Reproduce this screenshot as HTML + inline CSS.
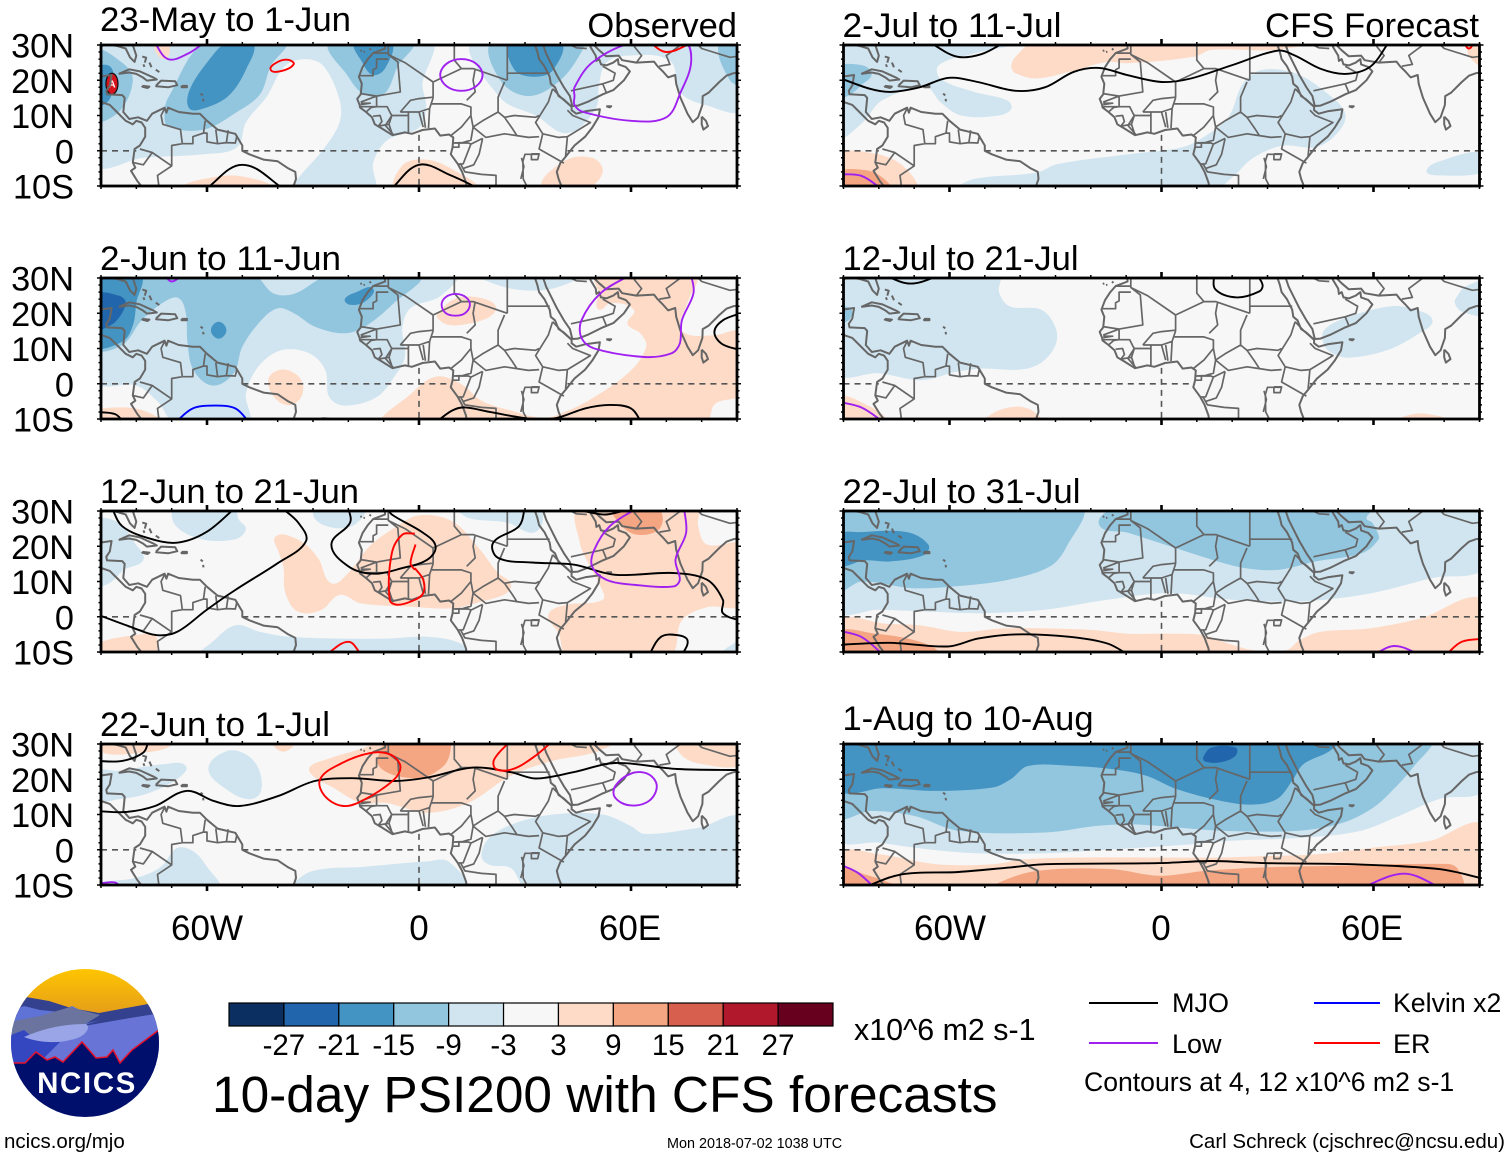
<!DOCTYPE html>
<html lang="en">
<head>
<meta charset="utf-8">
<title>10-day PSI200 with CFS forecasts</title>
<style>
html,body{margin:0;padding:0;background:#fff;}
svg{display:block;font-family:"Liberation Sans",sans-serif;}
</style>
</head>
<body>
<svg id="chart" xmlns="http://www.w3.org/2000/svg" width="1510" height="1158" viewBox="0 0 1510 1158">
  <rect width="1510" height="1158" fill="#fff"/>
  <g id="panels"></g>

  <text x="207" y="940" font-size="35" text-anchor="middle">60W</text>
  <text x="419" y="940" font-size="35" text-anchor="middle">0</text>
  <text x="630" y="940" font-size="35" text-anchor="middle">60E</text>
  <text x="950" y="940" font-size="35" text-anchor="middle">60W</text>
  <text x="1161" y="940" font-size="35" text-anchor="middle">0</text>
  <text x="1372" y="940" font-size="35" text-anchor="middle">60E</text>

  <text x="737" y="37" font-size="34.5" text-anchor="end">Observed</text>
  <text x="1479" y="37" font-size="34.7" text-anchor="end">CFS Forecast</text>

  <g id="colorbar"></g>
  <text x="854" y="1040" font-size="30.4">x10^6 m2 s-1</text>
  <text x="212" y="1112" font-size="51.4">10-day PSI200 with CFS forecasts</text>

  <g>
    <line x1="1089" y1="1003" x2="1158" y2="1003" stroke="#000" stroke-width="2"/>
    <text x="1172" y="1012" font-size="27">MJO</text>
    <line x1="1314" y1="1003" x2="1380" y2="1003" stroke="#0000ff" stroke-width="2"/>
    <text x="1393" y="1012" font-size="26.7">Kelvin x2</text>
    <line x1="1089" y1="1043" x2="1158" y2="1043" stroke="#a020f0" stroke-width="2"/>
    <text x="1172" y="1053" font-size="27">Low</text>
    <line x1="1314" y1="1043" x2="1380" y2="1043" stroke="#ff0000" stroke-width="2"/>
    <text x="1393" y="1053" font-size="27">ER</text>
    <text x="1084" y="1091" font-size="26.6">Contours at 4, 12 x10^6 m2 s-1</text>
  </g>

  <g>
    <defs>
      <clipPath id="logoClip"><circle cx="85" cy="1043" r="74"/></clipPath>
      <linearGradient id="sky" x1="0" y1="0" x2="0" y2="1"><stop offset="0" stop-color="#ffc600"/><stop offset="1" stop-color="#e39a1c"/></linearGradient>
    </defs>
    <g clip-path="url(#logoClip)">
      <rect x="10" y="968" width="150" height="50" fill="url(#sky)"/>
      <path d="M8 999 L26 997 L49 1001 L71 1008 L99 1013 L148 1004 L162 1006 L162 1070 L8 1070 Z" fill="#33418f"/>
      <path d="M8 1012 L24 1006 L40 1010 L60 1012 L72 1006 L92 1016 L84 1024 L100 1020 L8 1050 Z" fill="#5f72d6"/>
      <path d="M8 1022 L40 1016 L70 1007 L100 1015 L82 1026 L60 1042 L8 1040 Z" fill="#6a749f"/>
      <path d="M84 1026 L130 1018 L162 1013 L162 1080 L10 1080 L40 1045 Z" fill="#6875d6"/>
      <path d="M8 1036 L24 1030 L36 1040 L60 1042 L40 1062 L8 1064 Z" fill="#3547c0"/>
      <path d="M24 1037 C40 1030 60 1024 86 1024 C92 1028 84 1038 70 1040 C56 1044 36 1042 24 1037 Z" fill="#9aa5e8"/>
      <path d="M8 1063 L14 1063 L25 1063 L36 1052 L47 1060 L55 1057 L63 1062 L82 1042 L96 1058 L107 1057 L113 1050 L120 1063 L132 1050 L159 1030 L162 1030 L162 1120 L8 1120 Z" fill="#000f6b"/>
      <path d="M8 1063 L14 1063 L25 1063 L36 1052 L47 1060 L55 1057 L63 1062 L82 1042 L96 1058 L107 1057 L113 1050 L120 1063 L132 1050 L159 1030" fill="none" stroke="#e8102a" stroke-width="1.5"/>
    </g>
    <text x="87" y="1093" font-size="29.5" font-weight="bold" fill="#fff" text-anchor="middle" letter-spacing="1.6">NCICS</text>
  </g>

  <text x="4" y="1148" font-size="20.5">ncics.org/mjo</text>
  <text x="667" y="1148" font-size="14.4">Mon 2018-07-02 1038 UTC</text>
  <text x="1505" y="1148" font-size="20.5" text-anchor="end">Carl Schreck (cjschrec@ncsu.edu)</text>
</svg>

<script>
// ---- Axis values ----
const lonMajorTicks = [-60, 0, 60];
const lonMinorTicks = [-90,-80,-70,-50,-40,-30,-20,-10,10,20,30,40,50,70,80,90];
const latMajorTicks = [30, 20, 10, 0, -10];
const latTickLabels = ['30N', '20N', '10N', '0', '10S'];
const latMinorTicks = [28,26,24,22,18,16,14,12,8,6,4,2,-2,-4,-6,-8];

// ---- Colour scale ----
const colorLevels = [-27,-21,-15,-9,-3,3,9,15,21,27];
const colorFills = ['#0a2f60','#2166ac','#4393c3','#92c5de','#d1e5f0','#f7f7f7','#fddbc7','#f4a582','#d6604d','#b2182b','#67001f'];
const contourColors = {mjo:'#000000', low:'#a020f0', kelvin:'#0000ff', er:'#ff0000'};

// ---- Panel titles ----
const panelTitles = ['23-May to 1-Jun','2-Jun to 11-Jun','12-Jun to 21-Jun','22-Jun to 1-Jul','2-Jul to 11-Jul','12-Jul to 21-Jul','22-Jul to 31-Jul','1-Aug to 10-Aug'];

// ---- Filled PSI200 anomaly regions: [value, [[lon,lat],...]] ----
const regions1 = [
 [-6,[[-92,-3.5],[-78,-2],[-61,-1],[-51.5,1],[-49,8],[-43,15.5],[-38,24],[-32,26],[-27,24],[-22.5,14.5],[-22.5,8],[-27,0.5],[-33.5,-7],[-36,-11],[-13,-11],[-13,-3.5],[-9,3],[0,6.5],[2,12.5],[1,19],[3,31],[-92,31]]],
 [-6,[[16,31],[23,15],[33,10],[42,5],[50,12],[51,19],[53,25],[59,27],[71,25.5],[74,16.5],[81,13],[92,12],[92,31]]],
 [-12,[[-92,9],[-85,11],[-81,20],[-84,25],[-92,28]]],
 [-12,[[-71,15],[-72,11],[-71,7],[-61,6],[-51.5,11],[-45,16],[-42,24],[-38,31],[-60,31]]],
 [-12,[[-25,31],[-20,21],[-15.5,16],[-10,16],[-6,24],[-2,31]]],
 [-12,[[21,31],[23,20],[31,15.5],[40,20],[46.5,29],[46,31]]],
 [-12,[[85,31],[88,20],[92,19],[92,31]]],
 [-18,[[-92,23],[-87.5,24],[-86.5,19],[-88,14],[-92,13]]],
 [-18,[[-65,12],[-61,12],[-54,15.5],[-49,23],[-47,31],[-54,31],[-60,25],[-65,17]]],
 [-18,[[-18,31],[-16,25],[-13,21.5],[-9.5,23.5],[-8,31]]],
 [-18,[[26,31],[27,23],[33,21],[38,23],[40,31]]],
 [6,[[-75,31],[-72,26],[-71,31]]],
 [6,[[-66,-11],[-53,-7],[-42,-11]]],
 [6,[[-6.5,-11],[-4.5,-4],[2,-2.5],[9,-5],[16,-11]]],
 [6,[[35,-11],[41,-3],[49,-2],[52,-6],[47,-11]]]
];
const regions2 = [
 [-6,[[-92,1],[-80,-0.5],[-74,-5],[-69,-11],[-48.5,-11],[-49,-3],[-45.5,4.8],[-39,9.5],[-31,8.6],[-26.5,3.8],[-25.4,-3.8],[-21,-6.2],[-12,-3.8],[-7,2],[-4,7.6],[-4.7,16],[-2.4,21.4],[6,24.8],[10.6,31],[-92,31]]],
 [-6,[[17.7,31],[26,27],[37.8,27],[45,31]]],
 [-12,[[-47.2,31],[-41.3,25.7],[-35.4,25.5],[-24.8,31],[0,31],[-7,23],[-15.3,16.2],[-21.3,14.3],[-29.5,16.2],[-35.4,20],[-40,21.4],[-45,17.6],[-50,10.5],[-52.5,2.9],[-58.4,-0.5],[-63.8,3.8],[-65.5,11.4],[-66,20],[-68,24.3],[-72,23.3],[-78.5,18],[-84,11],[-92,10.3],[-92,31]]],
 [-18,[[-92,31],[-79,31],[-80,23],[-81,16.5],[-84,11.9],[-92,11]]],
 [-18,[[-56.7,17.6],[-54.5,15.2],[-56.7,12.8],[-58.9,15.2]]],
 [-18,[[-21,24],[-17.7,26],[-13,27],[-15.3,23.3],[-19.5,22.4]]],
 [-24,[[-92,25],[-85,25],[-83,23],[-85.5,18],[-88.5,16],[-92,15]]],
 [6,[[-38,4],[-33.6,1.5],[-33,-3],[-36,-6],[-39.8,-5],[-42.5,-1],[-42,2.5]]],
 [6,[[5.3,20],[10.6,24.3],[17.7,24.3],[21.8,21.9],[20,19],[14,17],[8.3,16.7],[5.3,18.6]]],
 [6,[[-92,-8],[-85,-6.7],[-78,-7.6],[-73,-11],[-92,-11]]],
 [6,[[-10,-11],[-2.4,-3],[4.7,2],[11.8,0],[17.7,-4.8],[26,-7.6],[35.4,-9.7],[41.3,-8],[49.6,-3.8],[60,3.8],[64.3,10.5],[62.6,14.3],[59,17],[60.8,21],[54.3,22.9],[51.4,21],[50.2,22],[50.8,25.7],[50,31],[78,31],[76,23],[73.8,16.2],[76.7,13.8],[83.8,13.8],[92,14.3],[92,-2.4],[83.8,-5.7],[81,-11]]]
];
const regions3 = [
 [-6,[[-92,27],[-85,26.7],[-80.5,21],[-78,16.2],[-83.5,13.3],[-87.7,9.5],[-92,9]]],
 [-6,[[-69,31],[-69,26],[-61.5,22],[-52,22],[-49,24.8],[-51,27.6],[-52.5,31]]],
 [-6,[[-30,29],[-27,26],[-20.5,25.2],[-16.5,27.6],[-15.3,31],[-28,31]]],
 [-6,[[11,31],[14,28],[25,26.7],[32,23.8],[35,26.7],[33.6,31]]],
 [-6,[[-62.5,-11],[-59,-7.6],[-52,-2.4],[-45,-4.3],[-36.6,-5.7],[-21,-6.2],[-9.4,-6.2],[2.4,-5.7],[11.8,-7.6],[13.5,-11]]],
 [-6,[[86,-11],[89,-7.6],[92,-7],[92,-11]]],
 [6,[[-41,22],[-39.5,23.3],[-36.6,22.9],[-32,20.5],[-28.3,16.2],[-24.8,9.5],[-20,12.4],[-14,20],[-7,25.2],[0,28.8],[9.4,27.1],[16.5,20],[22.4,12.4],[26,9.5],[24.8,6.7],[17.7,4.3],[9.4,2.4],[-3.5,2.9],[-16.5,3.8],[-22.4,6.2],[-27.7,1.9],[-34.2,1.4],[-37.8,6.7],[-38.4,14.3],[-40,19]]],
 [6,[[45.5,31],[45.5,21],[48.4,14.3],[51.4,8.6],[52,4.8],[41.3,3.3],[36.6,0.5],[39.6,-4.8],[42,-11],[70.8,-11],[74.4,-1],[81.5,2.7],[92,3.8],[92,20],[81.5,20.5],[79,25.7],[78.5,31]]],
 [6,[[-92,-8],[-80.3,-5.2],[-74.4,-5.7],[-75.6,-11],[-92,-11]]],
 [12,[[55,31],[57.5,25.7],[61.6,23.3],[67.3,24.3],[69,27.6],[67.3,31]]]
];
const regions4 = [
 [6,[[-92,31],[-89,27.4],[-80,27.4],[-72,28.6],[-69,31]]],
 [6,[[-41.3,31],[-38.4,27.8],[-35.4,31]]],
 [6,[[-31,23.3],[-26,25.7],[-16.5,28.6],[-9.4,31],[55.5,31],[49.6,27.6],[37.8,25.2],[26,21],[14,13.3],[2.4,10.5],[-9.4,13.3],[-16.5,13.3],[-25,18],[-29.5,20.5]]],
 [6,[[73,31],[74.4,26.7],[80,24.3],[92,24.3],[92,31]]],
 [12,[[-8.3,31],[-11.8,25.7],[-10.6,23],[-6,20.9],[1.2,20.5],[7,23.8],[8.8,27.6],[8.3,31]]],
 [-6,[[-92,22],[-85,22.4],[-72,24.3],[-66,23.8],[-68.5,20],[-76.7,16],[-85,14.3],[-92,14.3]]],
 [-6,[[-59.6,23],[-54.3,28],[-48.4,26.7],[-45,22],[-45,16],[-48.4,14.3],[-54.3,17]]],
 [-6,[[-92,-9.5],[-80.3,-8],[-73,-4.8],[-68.5,0.5],[-63.8,-0.5],[-60,-4.8],[-56.7,-11],[-92,-11]]],
 [-6,[[-35.4,-11],[-30.7,-6.2],[-15.3,-4.8],[2.4,-3.3],[8.3,-3.3],[13,-11]]],
 [-6,[[17.7,-2],[19.5,3],[26,7.1],[37.8,10],[52,10],[60,6.7],[63.8,4.5],[79,6.2],[92,8.6],[92,-11],[30.7,-11],[26,-5.2],[20,-4.3]]]
];
const regions5 = [
 [-6,[[-92,31],[-40,31],[-53,27.6],[-63,24.3],[-62.6,20.5],[-53,16.7],[-43.7,14.3],[-42.5,11.9],[-46,10],[-56.7,10],[-62.6,13.8],[-66.7,18],[-79,14.3],[-85,7.6],[-92,3.8]]],
 [-12,[[-92,23.3],[-85,24.3],[-82,21.9],[-85,18.6],[-88.5,15.7],[-92,15.2]]],
 [-6,[[-58,-11],[-53,-8],[-35.4,-6.2],[-29.5,-3.8],[-9.4,-1],[5.9,1],[11.8,3.8],[18.9,9.5],[23,19],[28.3,22.9],[37.8,22],[46,17],[52,10.5],[49.6,4.8],[43.7,1],[34.2,1.4],[26,-2],[20,-7.6],[14.8,-11]]],
 [-6,[[75,-5.7],[79,-2.9],[92,-0.5],[92,-5.7],[78,-7]]],
 [6,[[-42.5,23.8],[-41.3,26.7],[-35.4,31],[43.7,31],[31.9,28.6],[14,28.6],[9.4,26.7],[-9.4,24.8],[-15.3,25.2],[-26,22.4],[-35.4,20.5],[-41.3,22]]],
 [6,[[-92,-1.4],[-80.3,-1],[-72.6,-4.8],[-69.7,-11],[-92,-11]]],
 [12,[[-92,-6.2],[-83.8,-5.5],[-79,-7.6],[-76.7,-11],[-92,-11]]],
 [6,[[87.4,31],[87,27],[92,24],[92,31]]]
];
const regions6 = [
 [-6,[[-92,31],[-46,31],[-46,26],[-43,22],[-34,21],[-30,16],[-30,11],[-34,6],[-40,4],[-51,4.3],[-58,3.4],[-68,1],[-80,3],[-92,3.3]]],
 [-6,[[46,15.2],[53,19],[65,22],[72,21],[76.7,18],[73,14.3],[63.8,9.5],[53,7.4],[48.4,8.6],[46,11]]],
 [-6,[[83.8,25],[86,27.6],[92,28.6],[92,20],[85,20.5],[83,23]]],
 [-12,[[-92,21],[-88,21.4],[-88.5,18],[-92,18]]],
 [6,[[-92,-4],[-85,-5.2],[-78.5,-11],[-92,-11]]],
 [6,[[-50,-11],[-47,-8],[-41.3,-6.5],[-36.6,-7.6],[-34,-11]]],
 [6,[[66.7,-11],[73,-8.4],[81,-11]]]
];
const regions7 = [
 [-6,[[-92,2],[-80.3,2],[-65,1.4],[-51,1],[-33,2],[-15.3,4.8],[2.4,6.7],[20,4.8],[37.8,4.3],[49.6,5.2],[61.4,7.1],[76.7,11],[92,14.3],[92,31],[-92,31]]],
 [-12,[[-92,7.5],[-84.9,10],[-70.5,8.1],[-58.6,8.6],[-43.3,10.5],[-31.5,14.3],[-26.8,20],[-23,31],[-92,31]]],
 [-12,[[-17.7,26.2],[-9.4,23.8],[2.4,20],[14.2,16.2],[23.6,13.8],[33,13.3],[43.7,15.7],[56.7,18],[61.4,21.9],[61,24.3],[59.6,26.7],[58,28],[60,31],[-12,31]]],
 [-18,[[-92,23],[-85,24],[-72,24],[-66,20.5],[-67,17.6],[-76.7,15.7],[-84,16],[-92,14.8]]],
 [6,[[-92,-1],[-78,-2],[-68.5,-2.4],[-56.7,-4.3],[-45,-3.3],[-33,-3.3],[-19,-3.8],[-9.4,-4.8],[2.4,-4.8],[11.8,-5.2],[18.9,-7.6],[26,-9.5],[35.4,-9.5],[39,-6.7],[44.9,-4.3],[59,-3.3],[73.2,-0.5],[92,4.8],[92,-11],[-92,-11]]],
 [12,[[-92,-4.3],[-81,-4.8],[-71.7,-6.2],[-64.7,-8.6],[-62.6,-11],[-92,-11]]]
];
const regions8 = [
 [-6,[[-92,3.5],[-80,2],[-65,0],[-52.6,-1],[-32.8,-1],[-15.5,0],[8,1.5],[19,2.5],[41.5,3.5],[56.5,5.4],[66.4,9.2],[78.6,14.4],[92,17.2],[92,31],[-92,31]]],
 [-12,[[-92,9.6],[-82.3,11],[-70,9.6],[-57.5,5.4],[-32.8,4.9],[-18,6.8],[-8,7.2],[4.3,6.3],[16.7,5.4],[39,5.4],[51.4,7.7],[60,12],[66.2,17.7],[71.2,23.4],[76,31],[-92,31]]],
 [-18,[[-92,17.2],[-78.6,17.5],[-63.7,16.7],[-47.6,17.7],[-42.7,20],[-37.7,23.8],[-25.3,23.8],[-14.2,22.9],[-4.3,21],[4.3,17.2],[16.7,13.9],[25.3,12.8],[32.7,14.4],[37,19.6],[40.2,24.3],[47.6,28],[50,31],[-92,31]]],
 [-24,[[11.8,26.2],[14.2,29],[21,29],[21,26.7],[16.7,24.8],[12.4,25]]],
 [6,[[-92,-1],[-79.8,-1.3],[-63.7,-4.1],[-47.6,-4.1],[-39,-2.7],[-20.4,-2.2],[-0.6,-2.2],[16.7,-2.2],[29,-1.8],[44,-1.3],[60,0.6],[76,2.5],[92,6.8],[92,-11],[-92,-11]]],
 [12,[[-92,-5],[-84,-7],[-78,-9],[-74,-11],[-92,-11]]],
 [12,[[-46.4,-11],[-46.4,-9.5],[-35.3,-6],[-14.2,-5.5],[-0.6,-7.4],[12.4,-6],[29,-5],[47.6,-4.6],[78.6,-4],[83.5,-5],[84.8,-11]]]
];

// ---- Contours: [type, closed, [[lon,lat],...]] ----
const contours1 = [
 ['low',0,[[-75,31],[-71,26],[-65.5,27.5],[-61,30.5]]],
 ['low',1,[[12,26],[16.2,24.7],[18,21.5],[16.2,18.3],[12,17],[7.8,18.3],[6,21.5],[7.8,24.7]]],
 ['low',1,[[44,15.5],[44,13],[46.5,11],[60,8.5],[70,9.5],[74,16.5],[77,25],[75,31],[60,30.5],[49,25],[44,18]]],
 ['er',1,[[-42,23],[-39,22.6],[-35.5,24.5],[-37,25.8],[-40,25.2]]],
 ['er',0,[[65,31],[70,28],[77,30.5]]],
 ['mjo',0,[[-60.5,-11],[-50,-4],[-38,-11]]],
 ['mjo',0,[[-8,-11],[0,-4],[9,-7],[17.5,-11]]]
];
const contours2 = [
 ['low',0,[[-72,31],[-70,29],[-67,31]]],
 ['low',1,[[10.4,25.5],[13.2,24.6],[14.4,22.4],[13,20],[10.4,19.3],[7.6,20],[6.4,22.4],[7.6,24.6]]],
 ['low',0,[[60,31],[51.4,25.7],[46,18],[46,13],[49.6,10],[63.8,7.6],[71.4,8.6],[73.8,11.4],[74.4,18],[77.7,25.7],[77,31]]],
 ['mjo',0,[[91,20],[86,18],[83.6,14.8],[85.6,11.4],[91,9.5]]],
 ['mjo',0,[[-92,-8],[-86,-8.6],[-83.5,-11]]],
 ['kelvin',0,[[-69,-11],[-64,-7],[-58,-6.2],[-52,-7],[-48,-11]]],
 ['mjo',0,[[-30,-11],[-27,-9.8],[-21,-11]]],
 ['mjo',0,[[4.7,-11],[9.4,-7.6],[13,-6.7],[20,-8],[32,-10],[39,-9.7],[47,-7],[54,-6],[60,-7],[63,-11]]]
];
const contours3 = [
 ['mjo',0,[[-87,31],[-84,25.7],[-76.9,22.4],[-68.5,21],[-60.2,24],[-51.9,31]]],
 ['mjo',0,[[-39,31],[-34.2,26.7],[-32,21.4],[-40,15.2],[-52,7.6],[-60.2,1.9],[-68.5,-4.3],[-74.4,-5.2],[-81.5,-2.9],[-92,1]]],
 ['mjo',0,[[-20,31],[-19.5,26.7],[-24.8,20.5],[-20,14.3],[-13,12.2],[-4.7,13.8],[2.4,16.2],[4.7,20],[1.2,23.8],[-7.7,29],[-9,31]]],
 ['mjo',0,[[30,31],[28.3,25.7],[21,21],[22.4,16.7],[32,15.4],[43.7,14.8],[55.5,11.9],[72,12.4],[81.5,10.5],[86,4.8],[86,1],[92,-1.4]]],
 ['mjo',0,[[46.6,30],[53,29],[61,31]]],
 ['mjo',0,[[65,-11],[68.5,-5.7],[73,-5.2],[76,-6.7],[74.4,-11]]],
 ['er',0,[[-1.2,23.6],[-4.7,23.3],[-7.7,18],[-8.3,4.8],[-6,3.4],[-1.2,4.8],[1.2,6.7],[1.2,10.5],[-1.2,13.8]]],
 ['er',0,[[-1,20.5],[-2.4,15.2],[-1.2,13.3]]],
 ['er',0,[[-26,-10.5],[-20,-7.1],[-16.5,-10.5]]],
 ['low',0,[[62,31],[54,25.7],[49.6,19],[49,14.3],[53,10.5],[61.4,9],[72,8.6],[73.8,10.5],[72.6,16.2],[75.6,23.8],[75,31]]]
];
const contours4 = [
 ['mjo',0,[[-92,25.2],[-84,25.2],[-78,27.6],[-76.5,31]]],
 ['mjo',0,[[-92,11],[-83,10.7],[-74.7,12.4],[-65.8,16.7],[-58,13.8],[-50.8,12.4],[-40,15.2],[-29.5,19.5],[-18.9,20.3],[-7,19.5],[2.4,20.5],[15.3,23.3],[26,22],[33,20.2],[43.7,22],[55.5,24.6],[73,22.9],[92,22.6]]],
 ['er',1,[[-14,27.4],[-22.4,24.3],[-28,20],[-26.6,15.2],[-21.3,12.4],[-15.3,14.3],[-7,20],[-5.3,23.8],[-8.3,27.1]]],
 ['er',0,[[26,31],[21.3,25.7],[21.8,22.9],[26.6,22.9],[33,26.7],[38,31]]],
 ['low',1,[[60.2,21.7],[55.5,18],[55.5,14.8],[59.6,12.6],[65,13.8],[67.3,18],[65,21.4]]],
 ['low',0,[[-90,-9.5],[-86,-9.3],[-84,-11]]]
];
const contours5 = [
 ['low',0,[[-92,-6.7],[-85,-7.1],[-79,-11]]],
 ['mjo',0,[[-66,31],[-58,26.7],[-51,27.4],[-44,31]]],
 ['mjo',0,[[-92,21],[-82.6,17.6],[-76.7,16.7],[-68.5,18],[-60.2,20.7],[-52,19.5],[-41.3,17],[-33,18],[-24.8,22.4],[-17.7,23.5],[-9.4,21.4],[0,19.5],[8.3,20.5],[20,24.3],[33,28.4],[37.8,27],[44.9,23.3],[52,21.8],[59,23.8],[64.5,31]]],
 ['er',0,[[85.6,31],[87,29],[88.5,31]]]
];
const contours6 = [
 ['mjo',0,[[-79,31],[-71,28.4],[-62,31]]],
 ['mjo',0,[[14.8,31],[15.3,26.7],[21.3,24.5],[27.7,26.2],[28.6,28],[27,31]]],
 ['low',0,[[-92,-5],[-85,-6.7],[-78.5,-11]]]
];
const contours7 = [
 ['low',0,[[-92,-3.8],[-85,-5.7],[-78.5,-11]]],
 ['mjo',0,[[-92,-8],[-77,-7.4],[-60.2,-8.4],[-52,-6.2],[-41.3,-5],[-26,-5.7],[-15.3,-7.6],[-9,-11]]],
 ['low',0,[[59.6,-11],[66,-8.3],[73.8,-11]]],
 ['er',0,[[80.3,-11],[85,-7.1],[92,-6.2]]]
];
const contours8 = [
 ['mjo',0,[[-85,-11],[-73.6,-7],[-57.5,-6.3],[-42.7,-5],[-32.8,-4.1],[-0.6,-3.8],[14.2,-3.2],[29,-3.8],[53.8,-4.1],[78.6,-5.5],[92,-8.4]]],
 ['low',0,[[-92,-3.8],[-86,-6.5],[-81,-11]]],
 ['low',0,[[56,-11],[68.7,-6.8],[79.5,-11]]]
];

// ---- Geography (lon,lat) ----
const coastLines = [
 [[-92,29],[-88,30.3],[-85,29.6],[-83,29],[-81.8,26.5],[-80.5,25.2],[-80,27],[-81,30],[-81,32]],
 [[-92,18.6],[-90.5,21],[-87,21.5],[-87.5,18.5],[-88.5,17],[-88.3,16],[-84,15.8],[-83.3,15],[-83.7,11],[-82,9],[-79.5,9.5],[-77,8.5],[-75.5,10.5],[-72,12.2],[-71.5,10.8],[-71,12.2],[-68,11],[-64,10.5],[-62,10.5],[-60,8.5],[-57,6],[-52,4.8],[-50,1.5],[-50,0],[-48,-1],[-44,-2.5],[-40,-3],[-37,-5],[-35,-6],[-34.8,-8],[-35.5,-10],[-36,-12]],
 [[-92,14.5],[-87.5,13],[-85.5,11],[-83,8.5],[-81,7.5],[-80,8.5],[-78.5,8],[-77.5,6.5],[-77.5,4],[-79,1.5],[-80.5,0.5],[-81,-3.3],[-80.3,-4.8],[-81.5,-5.7],[-79.7,-8.6],[-77,-12]],
 [[-85,21.8],[-82,23.1],[-79,22.5],[-75,20.7],[-74.2,20.2],[-77,19.9],[-78,20.7],[-80,21.8],[-82,22.2],[-85,21.8]],
 [[-78.3,18.4],[-76.3,18.2],[-76.8,17.8],[-78.3,18.2],[-78.3,18.4]],
 [[-74.4,18.5],[-73,19.9],[-69,19.7],[-68.4,18.6],[-71,18],[-74.4,18.3],[-74.4,18.5]],
 [[-67.2,18.4],[-65.7,18.4],[-65.7,18],[-67.2,18],[-67.2,18.4]],
 [[-78.3,26.7],[-77.2,26.4],[-77.6,25]],[[-76.3,25],[-75.7,23.7]],[[-74.5,23],[-73.5,22.3]],[[-78,24.5],[-77.7,23.8]],
 [[-61.8,16.2],[-61.2,15.7]],[[-61.1,14.7],[-61,14]],
 [[-16.6,28.3],[-16.2,28.5]],[[-15.7,28],[-15.3,28.1]],[[-14,28.6],[-13.6,29]],
 [[-9.8,31],[-9.6,29],[-13,27.7],[-14.5,26],[-16,23.7],[-17,21],[-16.2,19],[-16.5,16],[-17.5,14.7],[-16.8,13],[-16.7,12.3],[-15,11],[-13.3,9.5],[-12.5,7.5],[-10.5,6.3],[-7.5,4.4],[-4,5.2],[-2,4.8],[1,5.9],[4.5,6.3],[6,4.3],[8.5,4.6],[9.7,3.8],[9.5,1],[9,-1],[11,-3.8],[12.2,-6],[13.3,-9],[13.7,-12]],
 [[32.5,31],[33.5,28],[34,26],[35.5,24],[37,21],[37.3,19],[38.5,18],[39.5,15.5],[41,14.5],[43.2,12.5],[43.2,11.5],[44.5,10.5],[47,11.2],[51.2,11.8],[50.8,9.5],[49,6.5],[47,4],[44,1.5],[41.5,-1.7],[40,-3.5],[39,-6],[39.5,-8],[40.5,-10.5],[40.5,-12]],
 [[34.8,31],[36,27.5],[37.5,24.5],[39,21.5],[41,18],[42.7,15.5],[43.4,12.7],[45,12.8],[48,14],[52,16],[55,17.2],[58,20],[59.7,22.5],[58.5,23.8],[56.5,24.5],[56.3,26],[55,25],[53,24.2],[51.5,24.5],[51,26],[50.2,25.5],[50,27],[48.5,29.5],[48.5,31]],
 [[49,30.5],[51,28.5],[53,26.8],[56.5,27],[57.5,25.7],[61.5,25],[66.5,25.3],[67.5,24],[69,22.5],[70.5,20.8],[72.5,21.5],[72.8,19],[74,15],[76,10.5],[77.5,8.1],[79,9.5],[80.2,13],[80.3,15.5],[82,16.5],[85,19.5],[87,21.3],[89,22],[92,22.5]],
 [[80,9.7],[81.2,8.5],[81.8,7],[80.5,6],[80,7.5],[80,9.7]],
 [[53,12.6],[54.4,12.6],[54,12.3],[53,12.6]]
];
const borderLines = [
 [[-72,12],[-73,10],[-72.5,7.5],[-67.5,6],[-67,2],[-70,1.5],[-70,-4.3],[-74,-7],[-73.5,-11]],
 [[-79,0.5],[-75.5,-0.5],[-70,-4.3]],[[-81,-3.3],[-78,-4],[-75.5,-0.5]],
 [[-60.5,8.5],[-61,5],[-60,5],[-60,2.5],[-57,2],[-57.5,6]],[[-54,5.8],[-54.5,2.3],[-57,2]],[[-54.5,2.3],[-52,2.2],[-51.5,4.3]],[[-61,5],[-64,4],[-64,2],[-67,2]],
 [[-13,27.7],[-8.7,27.7]],[[-8.7,31],[-8.7,27.3],[-4,25],[4,19.5],[12,23.3],[15.3,23.3],[25,20]],[[25,31],[25,20]],[[25,22],[37,22]],[[10,31],[10,25.7],[12,23.3]],
 [[-8.7,26],[-12,26],[-12,23.5],[-13,23],[-13,21.3],[-17,21.3]],[[-8.7,27.3],[-6,25.2],[-5.3,16.7],[-12,15.5],[-16.5,16.2]],
 [[15.9,23.3],[15.3,20],[15.9,16.7],[13.5,14.3]],[[24.2,19.5],[22.4,15.2],[22.4,11],[24.2,9.5]],
 [[4,19.5],[4,15.2],[0,14.8],[-2.4,14.3],[-5.3,11]],[[-5.3,11],[-3,11],[0,11],[3,12],[4,15]],
 [[3.5,13.3],[12,13.3],[14.7,12.4],[14.7,10],[12,6.7],[9,4.3]],[[3,12],[2.7,6.4]],
 [[-3,11],[-3,5.2]],[[0,11],[1.2,6.7]],[[1.2,11],[1.8,6.5]],
 [[-7.7,10],[-3,10]],[[-7.7,10],[-9.5,7.2],[-7.2,4.5]],
 [[-16.5,13.8],[-12,15.5],[-12,12.5],[-16.8,12.5]],[[-16.5,13.5],[-13.8,13.5],[-16.5,13.1]],
 [[-13,9.8],[-11,10],[-10.5,8.3],[-11.5,7]],[[-11.5,7],[-8.5,7.5],[-7.5,4.5]],
 [[-15,11],[-13.5,12.3],[-12,12.5],[-9,12.5],[-8,10.5],[-7.7,10],[-8.5,7.5]],
 [[14.7,10],[15.3,6.7],[18.9,3.8],[24.2,4.8],[27.7,4.3],[26.5,6.2],[24.2,9.5],[22.4,11],[18,8.5],[15.3,6.7]],[[15.3,6.7],[14.7,3],[12.4,2.3],[9.8,2.2]],
 [[24.2,9.5],[27,10],[33,9.5],[34,10]],[[37.8,17.6],[36.6,13.8],[33,8],[35,4.8],[39.5,3.8],[42,4],[48.5,8],[43.5,10],[42,11.5]],[[37.8,17.6],[40.5,14.8],[43,12.6]],
 [[35,4.8],[34,0.5],[41,-3.5]],[[42,4],[41.5,-1.5]],[[27.7,4.3],[31,3.8],[34,4]],
 [[34,-1],[30,-1],[29.4,-3],[29.5,-8],[30.5,-10],[33,-10],[34.5,-11.5]],
 [[9.5,1],[11.3,1],[11.3,2.2]],[[9.8,2.2],[14,2.2],[14.7,1.9],[18,3.5]],[[14.7,1.9],[12.5,-3.7],[11,-3.8]],[[11.8,-3.8],[13,-6],[17.7,-6.7],[21.8,-7],[21.8,-11]],
 [[18,3.5],[17,-1],[15.5,-4],[12.5,-5]],
 [[28.8,-8],[29.7,-4.5],[29,-2]],[[31.8,-0.9],[34,-0.9],[33.6,-2.5],[31.8,-2.5],[31.8,-0.9]],
 [[43,17],[52,19],[55,20],[55.5,22],[52,24]],[[55,20],[52,19],[53,16.5]],[[47.5,29],[44.5,29.2],[39,32]],
 [[61.5,25],[63,27],[61,29.5],[61,31]],[[68,24],[71,24.5],[70,27],[74,30],[74.5,31]],[[78,31],[80,29],[88,26.5],[92,27],[92,25],[92,20.5]]
];

// ---- Layout ----
const panelLeft = [101,101,101,101,843.5,843.5,843.5,843.5];
const panelTop = [45,278,511,744,45,278,511,744];
const titleBase = [31,270,503,736,37,270,503,730];
const titleWidth = [251,241,259,230,219,236,238,251];
const panelRegions = [regions1,regions2,regions3,regions4,regions5,regions6,regions7,regions8];
const panelContours = [contours1,contours2,contours3,contours4,contours5,contours6,contours7,contours8];
const NS = 'http://www.w3.org/2000/svg';
const plotW = 636, plotH = 141;

function mk(tag, attrs, parent){
  const el = document.createElementNS(NS, tag);
  for (const k in attrs) el.setAttribute(k, attrs[k]);
  parent.appendChild(el);
  return el;
}
function colorFor(value){
  let i = 0;
  while (i < colorLevels.length && value >= colorLevels[i]) i++;
  return colorFills[i];
}
function polyPath(pts){
  return pts.map(function(p,i){return (i?'L':'M')+p[0].toFixed(1)+' '+p[1].toFixed(1);}).join('');
}
function smoothPath(pts, closed){
  const n = pts.length;
  const get = function(i){ return closed ? pts[(i+n)%n] : pts[Math.max(0,Math.min(n-1,i))]; };
  function dir(i){
    const a = get(i-1), b = get(i+1);
    const dx = b[0]-a[0], dy = b[1]-a[1];
    const len = Math.hypot(dx,dy) || 1;
    return [dx/len, dy/len];
  }
  let d = 'M'+pts[0][0].toFixed(1)+' '+pts[0][1].toFixed(1);
  const last = closed ? n : n-1;
  for (let i=0;i<last;i++){
    const p1 = get(i), p2 = get(i+1);
    const L = Math.hypot(p2[0]-p1[0], p2[1]-p1[1]) / 3;
    const d1 = dir(i), d2 = dir(i+1);
    d += 'C'+(p1[0]+d1[0]*L).toFixed(1)+' '+(p1[1]+d1[1]*L).toFixed(1)+' '+(p2[0]-d2[0]*L).toFixed(1)+' '+(p2[1]-d2[1]*L).toFixed(1)+' '+p2[0].toFixed(1)+' '+p2[1].toFixed(1);
  }
  return d + (closed ? 'Z' : '');
}

const root = document.getElementById('panels');
panelTitles.forEach(function(title, idx){
  const x0 = panelLeft[idx], y0 = panelTop[idx];
  const xScale = function(lon){ return x0 + (lon + 90) * plotW / 180; };
  const yScale = function(lat){ return y0 + (30 - lat) * plotH / 40; };
  const toPx = function(p){ return [xScale(p[0]), yScale(p[1])]; };

  const g = mk('g', {}, root);
  
  

  const defs = mk('defs', {}, g);
  const cp = mk('clipPath', {id:'clip'+idx}, defs);
  mk('rect', {x:x0, y:y0, width:plotW, height:plotH}, cp);

  const t = mk('text', {x:x0-1, y:titleBase[idx], 'font-size':'34.7', textLength:titleWidth[idx], lengthAdjust:'spacingAndGlyphs'}, g);
  
  
  t.textContent = title;

  const plot = mk('g', {'clip-path':'url(#clip'+idx+')'}, g);
  
  
  mk('rect', {x:x0, y:y0, width:plotW, height:plotH, fill:'#f7f7f7'}, plot);

  panelRegions[idx].forEach(function(r){
    const el = mk('path', {d:smoothPath(r[1].map(toPx), true), fill:colorFor(r[0]), stroke:'none'}, plot);
    
    
  });

  if (idx === 0){
    const spot = mk('ellipse', {cx:xScale(-86.9), cy:yScale(19), rx:6, ry:10.5, fill:'#d7141e', stroke:'#111', 'stroke-width':1.2}, plot);
    
    
    const lab = mk('text', {x:xScale(-86.9), y:yScale(19)+3.5, 'font-size':10, 'font-weight':'bold', fill:'#fff', 'text-anchor':'middle'}, plot);
    
    
    lab.textContent = 'A';
  }

  const grid = mk('path', {
    d: polyPath([[-90,0],[-80,0]].map(toPx)) + polyPath([[-50,0],[9,0]].map(toPx)) + polyPath([[42,0],[90,0]].map(toPx)) + polyPath([[0,4.5],[0,-10]].map(toPx)),
    fill:'none', stroke:'#555', 'stroke-width':1.6, 'stroke-dasharray':'6 5'
  }, plot);
  
  

  const coast = mk('path', {d:coastLines.map(function(l){return polyPath(l.map(toPx));}).join(''), fill:'none', stroke:'#666', 'stroke-width':2, 'stroke-linejoin':'round'}, plot);
  
  
  const border = mk('path', {d:borderLines.map(function(l){return polyPath(l.map(toPx));}).join(''), fill:'none', stroke:'#666', 'stroke-width':1.7, 'stroke-linejoin':'round'}, plot);
  
  

  panelContours[idx].forEach(function(c){
    const el = mk('path', {d:smoothPath(c[2].map(toPx), !!c[1]), fill:'none', stroke:contourColors[c[0]], 'stroke-width':1.9}, plot);
    
    
  });

  // minor ticks
  let td = '';
  lonMinorTicks.forEach(function(v){
    const x = xScale(v);
    td += 'M'+x+' '+(y0-3)+'V'+y0+'M'+x+' '+(y0+plotH)+'V'+(y0+plotH+3);
  });
  latMajorTicks.forEach(function(v){
    const y = yScale(v);
    td += 'M'+(x0-4)+' '+y+'H'+x0+'M'+(x0+plotW)+' '+y+'H'+(x0+plotW+4);
  });
  latMinorTicks.forEach(function(v){
    const y = yScale(v);
    td += 'M'+(x0-2.5)+' '+y+'H'+x0+'M'+(x0+plotW)+' '+y+'H'+(x0+plotW+2.5);
  });
  const ticks = mk('path', {d:td, stroke:'#000', 'stroke-width':1.5, fill:'none'}, g);
  
  

  // major longitude ticks
  let mtd = '';
  lonMajorTicks.forEach(function(v){
    const x = xScale(v);
    mtd += 'M'+x+' '+(y0-6)+'V'+y0+'M'+x+' '+(y0+plotH)+'V'+(y0+plotH+6);
  });
  const mticks = mk('path', {d:mtd, stroke:'#000', 'stroke-width':2.6, fill:'none'}, g);
  
  

  const frame = mk('rect', {x:x0, y:y0, width:plotW, height:plotH, fill:'none', stroke:'#000', 'stroke-width':2.8}, g);
  
  

  if (idx < 4){
    latMajorTicks.forEach(function(v, j){
      const lb = mk('text', {x:74, y:yScale(v)+12.5, 'font-size':34.3, 'text-anchor':'end'}, g);
      
      
      lb.textContent = latTickLabels[j];
    });
  }
});

// ---- Colorbar ----
const cbar = document.getElementById('colorbar');
const cbX = 229, cbY = 1003, cbW = 604, cbH = 23;
const cbStep = cbW / colorFills.length;
colorFills.forEach(function(col, i){
  const r = mk('rect', {x:cbX + i*cbStep, y:cbY, width:cbStep, height:cbH, fill:col, stroke:'#000', 'stroke-width':1.2}, cbar);
  
  
});
colorLevels.forEach(function(v, i){
  const t = mk('text', {x:cbX + (i+1)*cbStep, y:1055, 'font-size':29.5, 'text-anchor':'middle'}, cbar);
  
  
  t.textContent = String(v);
});
</script>
</body>
</html>
